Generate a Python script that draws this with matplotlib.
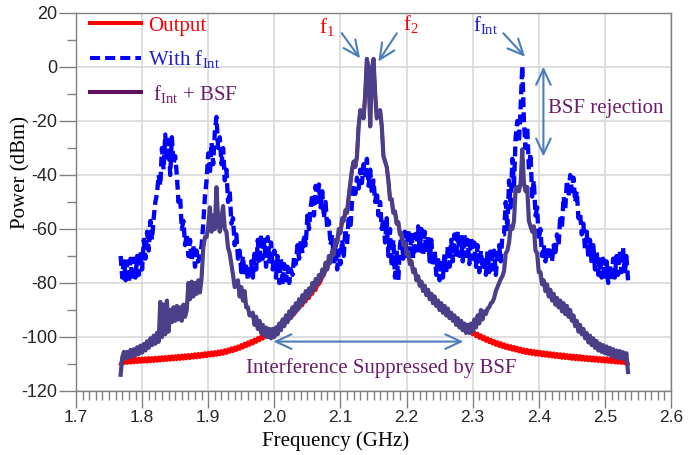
import numpy as np
import matplotlib
matplotlib.use('Agg')
import matplotlib.pyplot as plt
from matplotlib.ticker import MultipleLocator, FormatStrFormatter
from matplotlib.lines import Line2D
from matplotlib.font_manager import FontProperties

plt.rcParams['mathtext.fontset'] = 'custom'
plt.rcParams['mathtext.rm'] = 'Liberation Serif'
plt.rcParams['mathtext.it'] = 'Liberation Serif:italic'
plt.rcParams['font.family'] = ['Liberation Sans', 'DejaVu Sans']
plt.rcParams['axes.unicode_minus'] = False

# ---------------- data (frequency grid: 1.7675 GHz, 2.5 MHz steps) ----------------
F_START = 1.7675
F_STEP = 0.0025

output_dbm = [
    -110, -108.6, -109.8, -108.3, -109.7, -108.2, -109.6, -108.1, -109.5, -108, -109.4, -107.9, -109.3, -107.9, -109.2, -107.8, -109.2, -107.7, -109.1, -107.7,
    -109, -107.6, -108.9, -107.5, -108.8, -107.4, -108.7, -107.3, -108.6, -107.2, -108.5, -107.1, -108.4, -107, -108.3, -106.9, -108.2, -106.8, -108.1, -106.7,
    -108, -106.6, -107.9, -106.5, -107.7, -106.3, -107.6, -106.2, -107.5, -106.1, -107.3, -105.9, -107.2, -105.8, -107, -105.6, -106.9, -105.5, -106.7, -105.3,
    -106.5, -105.1, -106.3, -104.8, -106, -104.5, -105.6, -104.1, -105.3, -103.8, -104.9, -103.4, -104.5, -102.9, -104, -102.4, -103.5, -101.9, -103, -101.4,
    -102.5, -100.9, -101.9, -100.3, -101.3, -99.7, -100.7, -99.1, -100, -98.4, -99.3, -97.7, -98.6, -96.9, -97.7, -96, -96.8, -95, -95.8, -94.1,
    -94.7, -92.9, -93.5, -91.7, -92.3, -90.5, -90.9, -89.1, -89.5, -87.7, -88.3, -86.5, -86.9, -85.1, -85.7, -83.9, -84.1, -82.3, -82.7, -80.9,
    -80.5, -79.5, -78, -77, -75.5, -74.5, -73, -72, -70, -69, -66.5, -65, -62, -61, -58, -56.5, -54.5, -53.5, -48, -43,
    -38, -35, -37, -33, -22, -16, -17, -19, -10, 3, -1, -22, -1, 3, -10, -19, -17, -16, -22, -33,
    -35, -37, -42, -49, -49, -54, -53.5, -58, -57.5, -62, -61.5, -66, -65, -69.5, -68.5, -73, -72, -76, -75, -79,
    -77.5, -81, -79.5, -83, -81, -84.5, -82.5, -86, -84, -87.5, -85, -88.5, -86.5, -90, -87.5, -91, -88.5, -92, -89.5, -93,
    -91.5, -93.7, -92.7, -94.8, -93.8, -95.8, -94.8, -96.8, -95.7, -97.6, -96.6, -98.4, -97.4, -99.1, -98.1, -99.8, -98.7, -100.4, -99.3, -100.9,
    -99.9, -101.5, -100.4, -102, -100.9, -102.5, -101.4, -103, -101.8, -103.4, -102.2, -103.8, -102.6, -104.2, -103, -104.5, -103.3, -104.8, -103.6, -105.1,
    -103.9, -105.4, -104.2, -105.7, -104.5, -106, -104.7, -106.2, -104.9, -106.4, -105.1, -106.6, -105.3, -106.7, -105.4, -106.9, -105.6, -107, -105.7, -107.2,
    -105.9, -107.3, -106, -107.5, -106.2, -107.6, -106.3, -107.8, -106.4, -107.9, -106.6, -108, -106.7, -108.2, -106.8, -108.3, -106.9, -108.4, -107, -108.5,
    -107.2, -108.6, -107.3, -108.7, -107.4, -108.8, -107.5, -108.9, -107.6, -109, -107.7, -109.1, -107.8, -109.2, -107.9, -109.3, -108, -109.4, -108.1, -109.5,
    -108.2, -109.6, -108.3, -109.7, -108.4, -109.8, -108.5, -109.9,
]

with_fint_dbm = [
    -70, -78, -71, -79, -72, -80, -71, -79, -71, -78, -70, -77, -68, -75, -64, -71, -61, -68, -57, -64,
    -56, -50, -47, -40, -44, -30, -38, -25, -35, -27, -40, -26, -36, -33, -40, -50, -48, -60, -57, -66,
    -62, -70, -64, -72, -66, -74, -68, -72, -70, -66, -58, -48, -42, -32, -40, -28, -36, -24, -18.5, -30,
    -26, -36, -30, -42, -38, -50, -46, -58, -56, -66, -62, -71, -68, -76, -70, -77, -73, -79, -75, -72,
    -78, -68, -75, -64, -73, -62, -71, -64, -74, -63, -72, -65, -75, -68, -78, -70, -80, -71, -81, -73,
    -79, -74, -80, -75, -77, -70, -73, -66, -71, -64, -69, -62, -66, -55, -60, -52, -47, -55, -44, -50,
    -43.5, -52, -46, -56, -50, -60, -57, -66, -62, -72, -66, -75, -68, -73, -64, -70, -60, -66, -55, -60,
    -50, -44, -47, -41, -45, -38, -43, -36, -40, -34, -44, -38, -47, -42, -50, -46, -55, -50, -60, -56,
    -65, -56, -70, -60, -74, -64, -78, -68, -79, -66, -62, -71, -61, -70, -60, -69, -61, -71, -62, -68,
    -59, -68, -60, -70, -61, -69, -63, -72, -64, -74, -68, -77, -70, -79, -71, -78, -69, -76, -66, -74,
    -64, -72, -62, -71, -61, -70, -63, -72, -62, -70, -64, -73, -63, -71, -65, -74, -66, -76, -68, -75,
    -70, -77, -68, -76, -67, -75, -68, -77, -70, -66, -72, -62, -62, -50, -60, -42, -52, -34, -44, -26,
    -20, -28, -15, 0.5, -20, -30, -22, -38, -32, -48, -42, -55, -52, -64, -60, -70, -66, -72, -67, -71,
    -68, -72, -66, -70, -62, -66, -55, -60, -48, -53, -42, -48, -40, -46, -41, -50, -46, -56, -54, -62,
    -58, -68, -61, -71, -64, -73, -66, -75, -68, -77, -70, -78, -71, -79, -72, -80, -73, -79, -71, -78,
    -70, -77, -68, -76, -67, -77, -70, -79,
]

fint_bsf_dbm = [
    -114, -107.5, -105.5, -108, -105.5, -107.5, -104.8, -107.3, -104.5, -106.8, -103.8, -106.3, -103.2, -105.8, -102.6, -105, -101.6, -104, -100.5, -103,
    -99.5, -102.5, -98.5, -101.8, -87, -100, -88, -99, -86.5, -98, -90, -94.5, -89, -94, -88.5, -93.5, -89, -94, -88, -92.5,
    -90, -80, -86, -79.5, -85, -80, -84, -79, -83.5, -78, -67, -63, -63, -59, -52, -61, -55, -60, -44.5, -57,
    -61, -56, -51.5, -60, -61, -67, -69, -73, -77, -81.5, -81, -79, -85, -81.5, -86.5, -83, -89, -89, -92, -92,
    -91, -95.5, -92.5, -97, -94, -98.5, -95.5, -99.5, -96.5, -100, -97, -100.5, -97, -100, -96.5, -99, -95, -97.5, -93.5, -96,
    -92, -94.5, -90.5, -93, -89, -91.5, -87.5, -90, -86, -88.5, -84.5, -87, -83, -85.5, -82, -84, -80, -82.5, -78.5, -80.5,
    -77, -79, -75, -77, -72.5, -75, -70, -72.5, -68, -69.5, -64, -65, -60, -61.5, -56, -57, -53, -54, -48, -43,
    -38, -35, -37, -33, -22, -16, -17, -19, -10, 3, -1, -22, -1, 3, -10, -19, -17, -16, -22, -33,
    -35, -37, -42, -49, -49, -54, -53.5, -58, -57.5, -62, -61.5, -66, -65, -69.5, -68.5, -73, -72, -76, -75, -79,
    -77.5, -81, -79.5, -83, -81, -84.5, -82.5, -86, -84, -87.5, -85, -88.5, -86.5, -90, -87.5, -91, -88.5, -92, -89.5, -93,
    -91, -94, -92, -95.5, -93, -96.5, -94, -97.5, -95, -98.5, -95.5, -98.5, -95, -98, -93.5, -96.5, -92, -95, -90, -93.5,
    -90.5, -91.5, -89.5, -89, -87.5, -87, -85.5, -83, -81.5, -80, -78.5, -77.5, -75.5, -69, -68, -65, -59, -60, -57, -45,
    -44.5, -46, -43, -30.5, -43, -46, -44.5, -57, -59, -61, -59, -68, -69, -76, -76, -80.5, -79, -83, -80.5, -85,
    -82.5, -86.5, -84, -88, -85.5, -89, -86.5, -90.5, -87.5, -91.5, -88.5, -92.5, -90, -94, -92, -96, -94, -98, -95.5, -99,
    -97, -100.5, -98.5, -102, -99.5, -103, -100.5, -104, -101.5, -105, -102.5, -105.5, -103, -106, -103.5, -106.5, -104, -107, -104.5, -107.5,
    -105, -107.8, -105.2, -108, -105.6, -108.2, -106, -113,
]

x_ticks = [1.7, 1.8, 1.9, 2.0, 2.1, 2.2, 2.3, 2.4, 2.5, 2.6]
y_ticks = [-120, -100, -80, -60, -40, -20, 0, 20]
legend_labels = ['Output', r'With $\mathrm{f_{Int}}$', r' $\mathrm{f_{Int}}$ + BSF']

freq = F_START + F_STEP * np.arange(len(output_dbm))

# ---------------- styles ----------------
RED = '#FF0000'
BLUE = '#0000FF'
PURPLE_TRACE = '#4A3F88'
PURPLE_TEXT = '#6B1B6B'
PURPLE_LEG = '#5E1060'
BLUE_TEXT = '#1F1FC8'
ARROW = '#4A7EBB'
SERIF = 'Liberation Serif'

fig = plt.figure(figsize=(6.99, 4.55), dpi=100)
ax = fig.add_axes([0.10873, 0.14066, 0.85122, 0.83077])

l_out, = ax.plot(freq, output_dbm, color=RED, lw=2.6, zorder=3)
l_int, = ax.plot(freq, with_fint_dbm, color=BLUE, lw=3.1, ls=(0, (2.3, 1.2)), zorder=4)
l_bsf, = ax.plot(freq, fint_bsf_dbm, color=PURPLE_TRACE, lw=3.0, zorder=5)

ax.set_xlim(1.7, 2.6)
ax.set_ylim(-120, 20)
ax.set_xticks(x_ticks)
ax.set_yticks(y_ticks)
ax.xaxis.set_major_formatter(FormatStrFormatter('%.1f'))
ax.xaxis.set_minor_locator(MultipleLocator(0.01))
ax.yaxis.set_minor_locator(MultipleLocator(10))
ax.grid(which='major', color='#D9D9D9', lw=1.2)
ax.set_axisbelow(True)
ax.tick_params(which='major', length=12, width=1, color='#808080', direction='out')
ax.tick_params(which='minor', length=6.5, width=1, color='#808080', direction='out')
ax.tick_params(axis='x', labelsize=12.5, labelcolor='#262626', pad=2)
ax.tick_params(axis='y', labelsize=13, labelcolor='#262626', pad=1.5)
for s in ax.spines.values():
    s.set_color('#808080')
    s.set_linewidth(1.0)

ax.set_xlabel('Frequency (GHz)', fontsize=15, family=SERIF)
ax.xaxis.set_label_coords(0.437, -0.132)
ax.xaxis.label.set_verticalalignment('center')
ax.set_ylabel('Power (dBm)', fontsize=15, family=SERIF)
ax.yaxis.set_label_coords(-0.0924, 0.579)
ax.yaxis.label.set_verticalalignment('center')

# legend
handles = [Line2D([], [], color=RED, lw=2.9),
           Line2D([], [], color=BLUE, lw=2.9, ls=(0, (2.5, 1.25))),
           Line2D([], [], color=PURPLE_LEG, lw=2.9)]
ax.legend(handles, legend_labels, loc='upper left', bbox_to_anchor=(0.0235, 0.992),
          frameon=False, prop=FontProperties(family=SERIF, size=15),
          handlelength=2.45, handletextpad=0.34, labelspacing=0.6,
          borderpad=0, borderaxespad=0, labelcolor=[RED, BLUE_TEXT, PURPLE_TEXT])

# annotations
def arrow(tip, tail, style='->'):
    ax.annotate('', xy=tip, xytext=tail,
                arrowprops=dict(arrowstyle=f'{style},head_length=0.75,head_width=0.35',
                                color=ARROW, lw=1.5, shrinkA=0, shrinkB=0,
                                mutation_scale=15), zorder=6)

ax.text(2.0797, 14.8, r'$\mathrm{f_{1}}$', color=RED, fontsize=15, ha='center', va='center')
arrow((2.1297, 3.2), (2.102, 12.5))
ax.text(2.2068, 15.9, r'$\mathrm{f_{2}}$', color=RED, fontsize=15, ha='center', va='center')
arrow((2.1573, 2.0), (2.1852, 12.5))
ax.text(2.3203, 15.6, r'$\mathrm{f_{Int}}$', color=BLUE_TEXT, fontsize=15, ha='center', va='center')
arrow((2.3793, 3.8), (2.3464, 12.5))

arrow((2.407, 0.1), (2.407, -33.2), style='<->')
ax.text(2.4141, -15.2, 'BSF rejection', color=PURPLE_TEXT, fontsize=15, family=SERIF,
        ha='left', va='center')

arrow((1.9985, -101.7), (2.2859, -101.7), style='<->')
ax.text(2.1622, -111.5, 'Interference Suppressed by BSF', color=PURPLE_TEXT, fontsize=15,
        family=SERIF, ha='center', va='center', zorder=7)

fig.savefig('out.png', dpi=100)
